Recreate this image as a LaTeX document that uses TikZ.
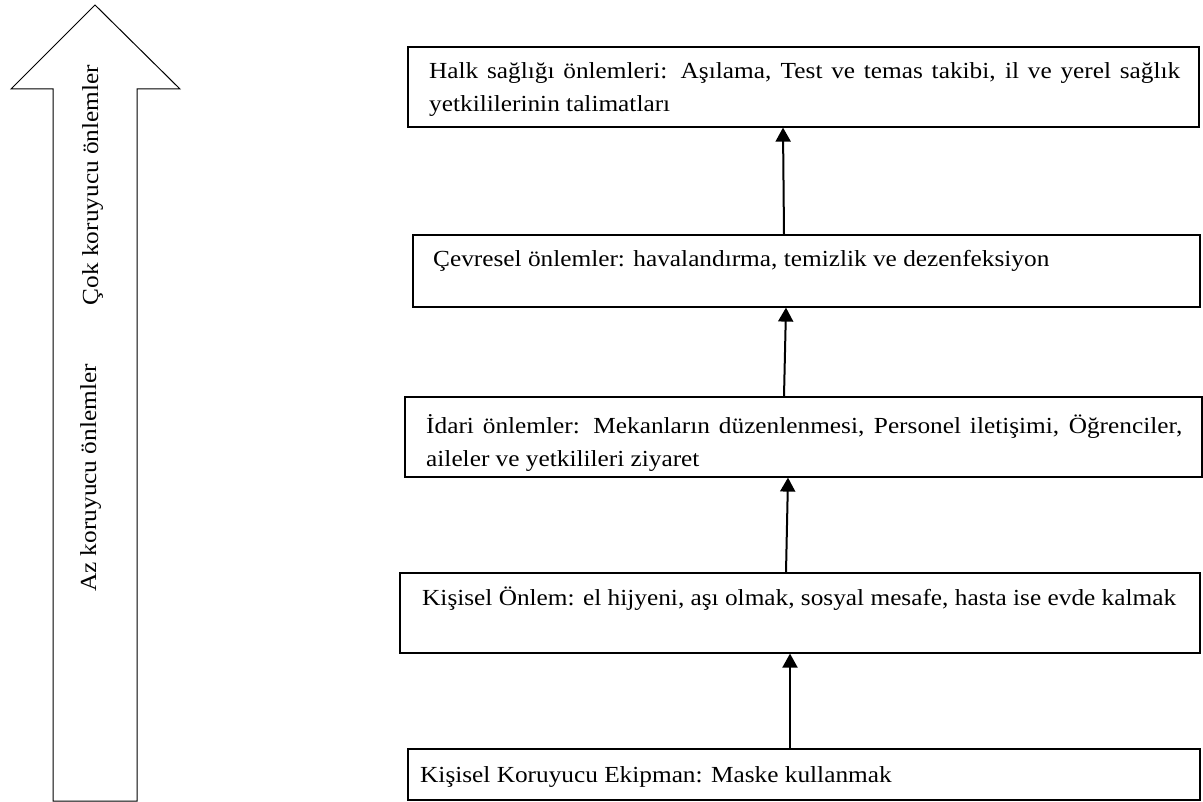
\documentclass[tikz,border=0pt]{standalone}
\usepackage{fontspec}
\setmainfont{Liberation Serif}[FakeStretch=1.1]
\usetikzlibrary{arrows.meta}
\begin{document}
\begin{tikzpicture}[x=1pt,y=-1pt,
  box/.style={draw, line width=1.2pt, inner sep=0pt},
  lbl/.style={anchor=base west, inner sep=0pt, font=\fontsize{23}{33}\selectfont, align=left},
  side/.style={rotate=90, anchor=base, inner sep=0pt, font=\fontsize{23}{33}\selectfont},
  conn/.style={line width=2pt, -{Triangle[width=15pt,length=14pt]}},
  bigarrow/.style={draw, line width=1pt, line join=miter}]
\useasboundingbox (0,0) rectangle (1203,802);
% big vertical arrow
\draw[bigarrow] (53,801) -- (53,89) -- (11,89) -- (95,5) -- (180,89) -- (137,89) -- (137,801) -- cycle;
\node[side] (cok) at (98,185) {Çok koruyucu önlemler};
\node[side] (az) at (96,478) {Az koruyucu önlemler};
% boxes
\node[box, minimum width=791pt, minimum height=80pt] (b1) at (803.5,87) {};
\node[box, minimum width=787pt, minimum height=72pt] (b2) at (806.5,271) {};
\node[box, minimum width=797pt, minimum height=80pt] (b3) at (803.5,437) {};
\node[box, minimum width=800pt, minimum height=80pt] (b4) at (800,613) {};
\node[box, minimum width=792pt, minimum height=51pt] (b5) at (804,774.5) {};
% texts
\node[lbl] (t1) at (429,112) {\makebox[751pt][s]{Halk sağlığı önlemleri: Aşılama, Test ve temas takibi, il ve yerel sağlık}\\yetkililerinin talimatları};
\node[lbl] (t2) at (433,267) {Çevresel önlemler: havalandırma, temizlik ve dezenfeksiyon};
\node[lbl] (t3) at (426,466) {\makebox[756pt][s]{İdari önlemler: Mekanların düzenlenmesi, Personel iletişimi, Öğrenciler,}\\aileler ve yetkilileri ziyaret};
\node[lbl] (t4) at (422,605) {Kişisel Önlem: el hijyeni, aşı olmak, sosyal mesafe, hasta ise evde kalmak};
\node[lbl] (t5) at (420,782) {Kişisel Koruyucu Ekipman: Maske kullanmak};
% connectors
\draw[conn] ([xshift=-14pt]b5.north) -- ([xshift=-10pt]b4.south);
\draw[conn] ([xshift=-14pt]b4.north) -- ([xshift=-15.5pt]b3.south);
\draw[conn] ([xshift=-19.5pt]b3.north) -- ([xshift=-20.5pt]b2.south);
\draw[conn] ([xshift=-22.5pt]b2.north) -- ([xshift=-20.5pt]b1.south);
\end{tikzpicture}
\end{document}
